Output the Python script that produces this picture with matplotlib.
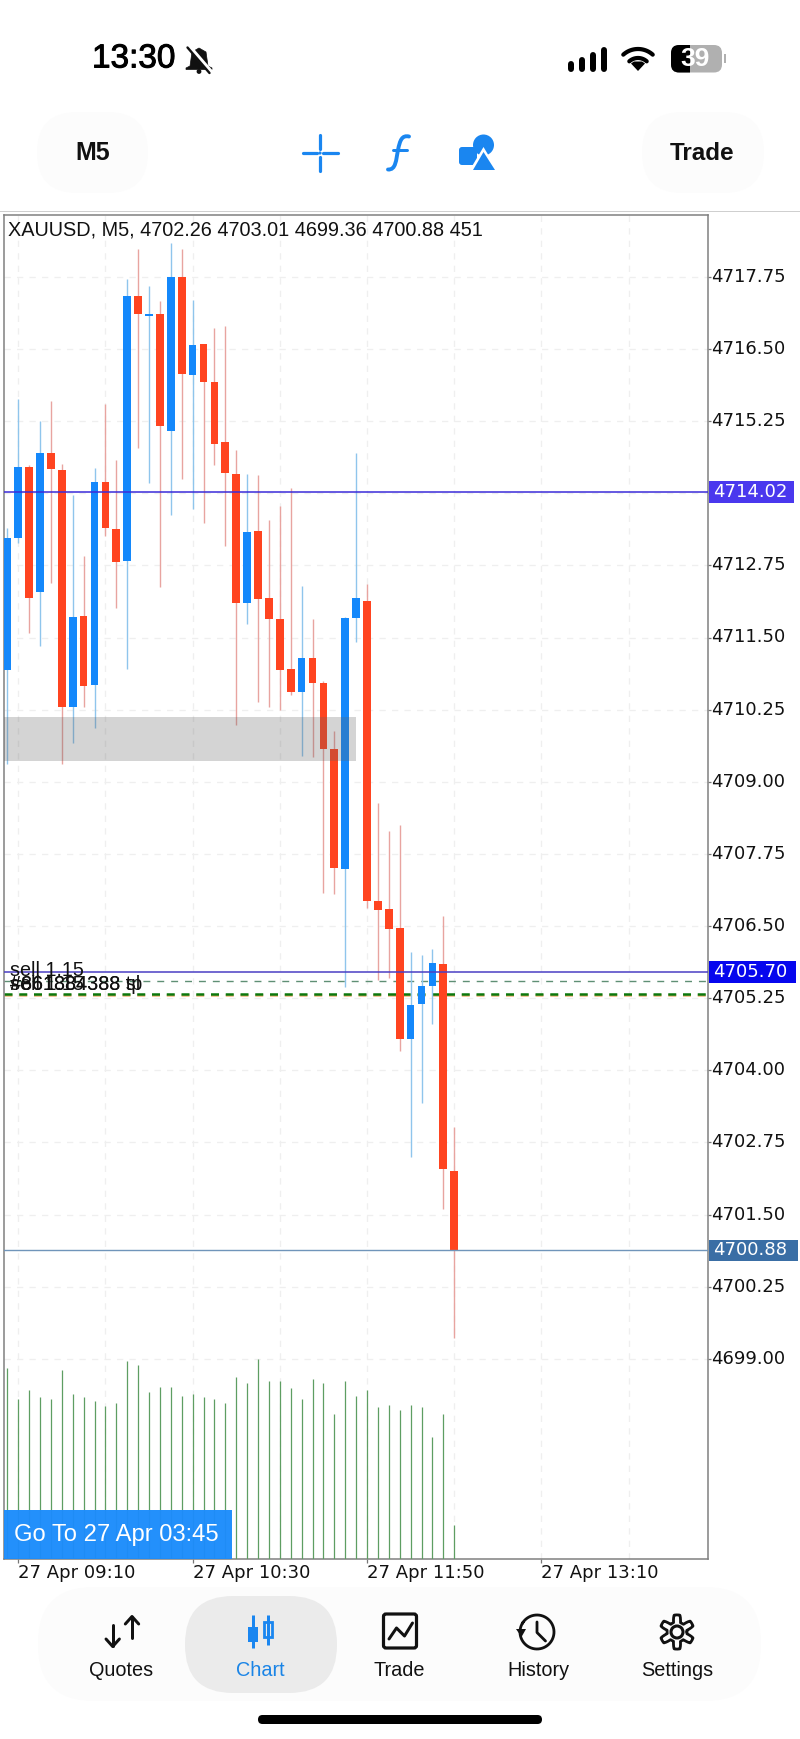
#!/usr/bin/env python
# -*- coding: utf-8 -*-

import numpy as np
import matplotlib
matplotlib.use("Agg")
import matplotlib.pyplot as plt
import matplotlib.patheffects as pe
from matplotlib.patches import FancyBboxPatch, Rectangle, Polygon, Circle, PathPatch
from matplotlib.path import Path

# candles, oldest first (M5)
opens = [4710.94, 4713.23, 4714.46, 4712.28, 4714.70, 4714.40, 4710.30, 4711.88, 4710.67, 4714.20,
         4713.38, 4712.83, 4717.42, 4717.08, 4717.11, 4715.08, 4717.75, 4716.05, 4716.59, 4715.93,
         4714.88, 4714.33, 4712.09, 4713.34, 4712.19, 4711.82, 4710.95, 4710.55, 4711.14, 4710.72,
         4709.57, 4707.49, 4711.84, 4712.13, 4706.93, 4706.80, 4706.46, 4704.55, 4705.14, 4705.46,
         4705.85, 4702.26]
closes = [4713.22, 4714.45, 4712.19, 4714.69, 4714.42, 4710.29, 4711.85, 4710.66, 4714.20, 4713.39,
          4712.81, 4717.41, 4717.10, 4717.11, 4715.17, 4717.75, 4716.06, 4716.57, 4715.92, 4714.85,
          4714.35, 4712.10, 4713.33, 4712.16, 4711.82, 4710.93, 4710.56, 4711.14, 4710.71, 4709.56,
          4707.51, 4711.84, 4712.18, 4706.93, 4706.77, 4706.45, 4704.55, 4705.13, 4705.46, 4705.86,
          4702.28, 4700.88]
highs = [4713.40, 4715.63, 4714.49, 4715.26, 4715.60, 4714.51, 4713.97, 4712.91, 4714.43, 4715.54,
         4714.58, 4717.72, 4718.23, 4717.60, 4717.33, 4718.33, 4718.23, 4717.35, 4716.59, 4716.86,
         4716.89, 4714.75, 4714.33, 4714.32, 4713.54, 4713.78, 4714.09, 4712.40, 4711.82, 4710.74,
         4709.88, 4711.86, 4714.70, 4712.43, 4708.63, 4708.15, 4708.25, 4706.05, 4706.00, 4706.10,
         4706.67, 4703.01]
lows = [4709.31, 4713.13, 4711.58, 4711.36, 4712.44, 4709.31, 4709.67, 4710.30, 4709.93, 4713.26,
        4712.01, 4710.95, 4714.78, 4714.17, 4712.37, 4713.62, 4714.25, 4713.73, 4713.49, 4714.49,
        4713.09, 4709.98, 4711.73, 4710.39, 4710.30, 4710.24, 4710.50, 4709.45, 4709.43, 4707.08,
        4707.05, 4705.44, 4711.43, 4706.82, 4705.56, 4705.60, 4704.34, 4702.49, 4703.44, 4704.81,
        4701.60, 4699.36]
volumes = [2530, 2118, 2241, 2144, 2118, 2502, 2188, 2144, 2095, 2029,
           2069, 2621, 2573, 2215, 2285, 2285, 2166, 2188, 2144, 2118,
           2069, 2409, 2338, 2648, 2360, 2360, 2263, 2118, 2382, 2334,
           1923, 2360, 2166, 2237, 2020, 2046, 1976, 2046, 2020, 1613,
           1923, 451]

price_ticks = [4699.00, 4700.25, 4701.50, 4702.75, 4704.00, 4705.25, 4706.50,
               4707.75, 4709.00, 4710.25, 4711.50, 4712.75, 4714.00,
               4715.25, 4716.50, 4717.75]
time_ticks = [1, 17, 33, 49]
time_labels = ["27 Apr 09:10", "27 Apr 10:30", "27 Apr 11:50", "27 Apr 13:10"]
time_minor = [9, 25, 41, 57]

bid_line = 4714.02
ask_line = 4705.70
last_line = 4700.88
sl_line = 4705.55
tp_line = 4705.33
tp_line2 = 4705.30
zone_low = 4709.36
zone_high = 4710.12
zone_end = 32

BLUE = "#1488FB"
RED = "#FF4420"
BLUE_W = "#8FC5EC"
RED_W = "#E8A4A0"
TXT = "#111111"
SANS = "Liberation Sans"

W, H = 800, 1739
AX_L, AX_R, AX_T, AX_B = 4.0, 707.6, 215.0, 1559.0


def add_axes_px(l, t, r, b):
    return fig.add_axes([l / W, 1 - b / H, (r - l) / W, (b - t) / H])


def blob(x0, y0, x1, y1, r, face, shadow=True):
    if shadow:
        for k in range(14):
            g = 2 + k * 2.6
            ui.add_patch(FancyBboxPatch((x0 - g + 6, y0 - g + 8), x1 - x0 + 2 * g, y1 - y0 + 2 * g,
                                        boxstyle="round,pad=0,rounding_size=%g" % (r + g),
                                        fc="#000000", ec="none", alpha=0.0018))
    p = FancyBboxPatch((x0, y0), x1 - x0, y1 - y0, boxstyle="round,pad=0,rounding_size=%g" % r,
                       fc=face, ec="none")
    ui.add_patch(p)
    return p


def line(xs, ys, c="#111111", lw=3.0, cap="round"):
    ui.plot(xs, ys, color=c, lw=lw * 0.72, solid_capstyle=cap, solid_joinstyle="round")


def arc(cx, cy, r, a0, a1, c="#111111", lw=3.0):
    t = np.radians(np.linspace(a0, a1, 60))
    line(cx + r * np.cos(t), cy - r * np.sin(t), c, lw)


fig = plt.figure(figsize=(W / 100, H / 100), dpi=100, facecolor="white")

# ---- UI layer behind the chart
ui = fig.add_axes([0, 0, 1, 1], zorder=1)
ui.set_xlim(0, W)
ui.set_ylim(H, 0)
ui.axis("off")

blob(37, 112, 148, 193, 40, "#FCFCFC")
blob(642, 112, 764, 193, 40, "#FCFCFC")
blob(38, 1587, 761, 1701, 56, "#FCFCFC")
blob(185, 1596, 337, 1693, 48, "#EBEBEB", shadow=False)
ui.add_patch(Rectangle((0, 210.5), W, 1.2, fc="#CFCFCF", ec="none"))
ui.add_patch(FancyBboxPatch((258, 1715), 284, 9, boxstyle="round,pad=0,rounding_size=4.5",
                            fc="#000000", ec="none"))

# ---- status bar
clock = ui.text(92, 59, "13:30", fontsize=24, family=SANS, color="#000000", va="center", ha="left")
clock.set_path_effects([pe.withStroke(linewidth=0.7, foreground="#000000")])
ui.add_patch(Polygon([(199, 48), (192, 52), (190, 66), (186, 68), (186, 69.5), (212, 69.5), (212, 68),
                      (208, 66), (206, 52)], fc="#111111", ec="#111111", lw=0.5))
ui.add_patch(Circle((199, 71.5), 2.4, fc="#111111", ec="none"))
line([189, 211], [46.5, 72], "#FFFFFF", 4.5)
line([187.5, 209.5], [47.5, 73], "#111111", 2.4)

for bx, bt in zip([571, 582, 593, 604], [61, 57, 52, 47]):
    line([bx, bx], [bt + 3, 68.5], "#000000", 6.0)
arc(638, 71, 22, 48, 132, "#000000", 4.2)
arc(638, 71, 13, 48, 132, "#000000", 4.2)
ui.add_patch(Polygon([(638, 71), (631, 63.5), (634, 61.5), (642, 61.5), (645, 63.5)], fc="#000000", ec="none"))
ui.add_patch(FancyBboxPatch((671, 45), 51, 27.5, boxstyle="round,pad=0,rounding_size=8", fc="#B0B0B0", ec="none"))
batt = FancyBboxPatch((671, 45), 51, 27.5, boxstyle="round,pad=0,rounding_size=8", fc="#000000", ec="none")
ui.add_patch(batt)
batt.set_clip_path(Rectangle((671, 44), 19, 30, transform=ui.transData))
ui.add_patch(Rectangle((723.5, 54), 2.5, 9, fc="#B0B0B0", ec="none"))
ui.text(695.5, 59.5, "39", fontsize=19, family=SANS, fontweight="bold", color="#FFFFFF", ha="center", va="center")

# ---- toolbar
ui.text(92.5, 153, "M5", fontsize=18, family=SANS, fontweight="bold", color=TXT, ha="center", va="center")
ui.text(702.5, 153, "Trade", fontsize=17.5, family=SANS, fontweight="bold", color=TXT, ha="center", va="center")

TB = "#1A86F0"
line([303, 317], [153, 153], TB, 3.2)
line([323, 338], [153, 153], TB, 3.2)
line([320, 320], [135, 149], TB, 3.2)
line([320, 320], [157, 171], TB, 3.2)
ui.add_patch(Circle((320, 153), 1.6, fc=TB, ec="none"))
fpath = Path([(409, 136.5), (402, 135), (400, 140), (398, 150), (396, 160), (396, 170), (388, 169.5)],
             [Path.MOVETO] + [Path.CURVE4] * 6)
ui.add_patch(PathPatch(fpath, fc="none", ec=TB, lw=2.8, capstyle="round"))
line([393, 407], [150, 150], TB, 3.0)
ui.add_patch(FancyBboxPatch((459, 147), 18, 18, boxstyle="round,pad=0,rounding_size=3", fc=TB, ec="none"))
ui.add_patch(Circle((483.5, 145), 10.5, fc=TB, ec="none"))
ui.add_patch(Polygon([(483.5, 147), (468, 173), (499, 173)], fc="#FFFFFF", ec="none"))
ui.add_patch(Polygon([(483.5, 152), (473, 170), (495, 170)], fc=TB, ec="none"))

# ---- tab bar
tab_names = ["Quotes", "Chart", "Trade", "History", "Settings"]
tab_x = [121, 260, 399.5, 538, 677.5]
for name, tx in zip(tab_names, tab_x):
    col = "#1A84E6" if name == "Chart" else TXT
    ui.text(tx, 1670, name, fontsize=14.3, family=SANS, color=col, ha="center", va="center")

line([112.7, 112.7], [1625, 1646], TXT, 3)
line([106, 112.7, 119.4], [1639, 1646.5, 1639], TXT, 3)
line([132, 132], [1617, 1638], TXT, 3)
line([125.3, 132, 138.7], [1624, 1616.5, 1624], TXT, 3)

line([252.6, 252.6], [1615, 1648], TB, 3, "butt")
ui.add_patch(Rectangle((247.6, 1627), 10, 15, fc=TB, ec="none"))
line([267.8, 267.8], [1615, 1645], TB, 3, "butt")
ui.add_patch(Rectangle((263.8, 1622), 8, 15, fc="#EBEBEB", ec=TB, lw=2.0))

ui.add_patch(FancyBboxPatch((383.5, 1614), 33, 34, boxstyle="round,pad=0,rounding_size=2.5", fc="none", ec=TXT, lw=2.3))
line([389, 396.5, 404.5, 412.5], [1639, 1628, 1636, 1623], TXT, 3)

arc(537, 1632, 17, -215, 150, TXT, 2.8)
ui.add_patch(Polygon([(516, 1629), (526, 1629), (521.5, 1637)], fc=TXT, ec="none"))
line([537, 537, 545.5], [1622, 1632.5, 1641], TXT, 2.8)

t = np.radians(np.linspace(0, 360, 361))
gear_r = 13.5 + 3.6 * np.clip(1.9 * np.cos(6 * (t + np.pi / 6)), -1, 1)
line(677 + gear_r * np.cos(t), 1632 + gear_r * np.sin(t), TXT, 2.8)
ui.add_patch(Circle((677, 1632), 6, fc="none", ec=TXT, lw=2.2))

# ---- chart
ax = add_axes_px(AX_L, AX_T, AX_R, AX_B)
ax.set_zorder(2)
ax.patch.set_facecolor("white")
x = np.arange(len(opens))
xlim = ((AX_L - 7.3) / 10.9, (AX_R - 7.3) / 10.9)
ylim = (4706.5 + (926 - AX_B) / 57.7, 4706.5 + (926 - AX_T) / 57.7)
ax.set_xlim(*xlim)
ax.set_ylim(*ylim)

ax.set_axisbelow(True)
ax.grid(True, which="both", color="#EFEFEF", lw=0.9, linestyle=(0, (5, 5)))

ax.axhline(sl_line, color="#5F8F75", lw=1.0, linestyle=(0, (5, 5)), zorder=1.5)
ax.axhline(tp_line2, color="#F0B27A", lw=1.8, linestyle=(0, (3.2, 2.7)), zorder=1.5)
ax.axhline(tp_line, color="#0C780C", lw=1.8, linestyle=(0, (3.2, 2.7)), zorder=1.6)

o = np.array(opens)
c = np.array(closes)
up = c >= o
ax.vlines(x[up], np.array(lows)[up], np.array(highs)[up], color=BLUE_W, lw=1.0, zorder=2)
ax.vlines(x[~up], np.array(lows)[~up], np.array(highs)[~up], color=RED_W, lw=1.0, zorder=2)
ax.bar(x[up], (c - o)[up], bottom=o[up], width=0.7, color=BLUE, zorder=3)
ax.bar(x[~up], (o - c)[~up], bottom=c[~up], width=0.7, color=RED, zorder=3)

ax.add_patch(Rectangle((xlim[0], zone_low), zone_end - xlim[0], zone_high - zone_low,
                       fc="#606060", ec="none", alpha=0.27, zorder=3.5))

ax.axhline(bid_line, color="#3A2BD8", lw=1.1, zorder=4)
ax.axhline(ask_line, color="#4A3FC4", lw=1.1, zorder=4)
ax.axhline(last_line, color="#7095BA", lw=1.0, zorder=4)

ax.yaxis.tick_right()
ax.set_yticks(price_ticks)
ax.set_yticklabels(["%.2f" % p for p in price_ticks], fontsize=13, family="DejaVu Sans", color=TXT, va="center")
ax.tick_params(axis="y", length=2, width=0.9, color="#777777", pad=0.8)
ax.set_xticks(time_ticks)
ax.set_xticklabels(time_labels, fontsize=13, family="DejaVu Sans", color=TXT, ha="left")
ax.set_xticks(time_minor, minor=True)
ax.tick_params(axis="x", which="major", length=3, width=0.9, color="#777777", pad=0.5)
ax.tick_params(axis="x", which="minor", length=0)
for s in ax.spines.values():
    s.set_color("#808080")
    s.set_linewidth(1.1)

# price boxes on the right edge
tr = ax.get_yaxis_transform()
frac = AX_R - AX_L
for price, col, wid in [(bid_line, "#4A38EE", 85.5), (ask_line, "#0606EE", 87.5), (last_line, "#3A6EA5", 89)]:
    ax.add_patch(Rectangle((1 + 1.4 / frac, price - 0.185), wid / frac, 0.37, transform=tr,
                           fc=col, ec="none", clip_on=False, zorder=6))
    ax.text(1 + 5.0 / frac, price, "%.2f" % price, transform=tr, fontsize=13, family="DejaVu Sans",
            color="#FFFFFF", va="center", ha="left", zorder=7, clip_on=False)

# volume pane shares the same box
av = add_axes_px(AX_L, AX_T, AX_R, AX_B)
av.set_zorder(3)
av.patch.set_visible(False)
av.axis("off")
av.set_xlim(*xlim)
av.set_ylim(0, 13.26 * (AX_B - AX_T))
av.vlines(x, 0, volumes, color="#5E9E62", lw=0.9)

# ---- text and button on top of the chart
top = fig.add_axes([0, 0, 1, 1], zorder=4)
top.set_xlim(0, W)
top.set_ylim(H, 0)
top.axis("off")
top.text(7.5, 230.5, "XAUUSD, M5, 4702.26 4703.01 4699.36 4700.88 451", fontsize=14.3, family=SANS,
         color=TXT, va="center", ha="left")
top.text(9.5, 971, "sell 1.15", fontsize=14.25, family=SANS, color=TXT, va="center", ha="left")
top.text(9.5, 985, "sell 1.15", fontsize=14.25, family=SANS, color=TXT, va="center", ha="left")
top.text(9.5, 985, "#861884388 sl", fontsize=14.25, family=SANS, color=TXT, va="center", ha="left")
top.text(9.5, 985, "#661884388 tp", fontsize=14.25, family=SANS, color=TXT, va="center", ha="left")
top.add_patch(Rectangle((AX_L, 1510), 231.6 - AX_L, 49, fc="#1C8CFB", ec="none", alpha=0.97))
top.text(14, 1535, "Go To 27 Apr 03:45", fontsize=17.1, family=SANS, color="#FFFFFF", va="center", ha="left")

fig.savefig("out.png", dpi=100, facecolor="white")
